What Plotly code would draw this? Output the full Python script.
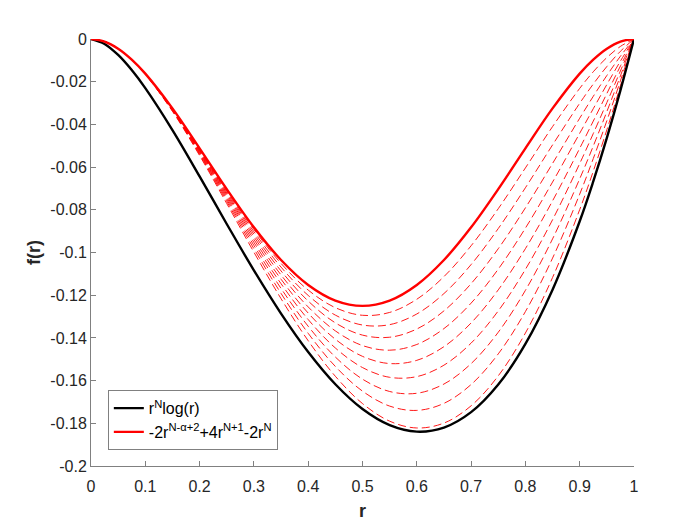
import plotly.graph_objects as go

# sample points along r
r_vals = [0, 0.025, 0.05, 0.075, 0.1, 0.15, 0.2, 0.25, 0.3, 0.35, 0.4, 0.45, 0.5,
          0.55, 0.6, 0.65, 0.7, 0.75, 0.8, 0.85, 0.9, 0.925, 0.95, 0.975, 1.0]

# black curve r^N log(r)
f_log = [0, -0.00231, -0.00749, -0.01457, -0.02303, -0.04268, -0.06438, -0.08664, -0.10836, -0.1286,
         -0.14661, -0.1617, -0.17329, -0.18083, -0.18389, -0.18201, -0.17478,
         -0.16183, -0.14281, -0.11741, -0.08537, -0.06671, -0.04629, -0.02407, 0]

# red solid curve
f_red = [0, -0.00119, -0.00451, -0.00963, -0.0162, -0.03251, -0.0512, -0.07031, -0.0882, -0.10351,
         -0.1152, -0.12251, -0.125, -0.12251, -0.1152, -0.10351, -0.0882,
         -0.07031, -0.0512, -0.03251, -0.0162, -0.00963, -0.00451, -0.00119, 0]

# red dashed family
dashed_1 = [0, -0.00119, -0.00451, -0.00963, -0.01622, -0.03261, -0.05147, -0.07087, -0.08921, -0.10513, -0.1176, -0.12585, -0.12941,
            -0.12807, -0.12191, -0.11129, -0.09684, -0.07948, -0.06039, -0.04103, -0.02313, -0.01534, -0.0087, -0.00348, 0]
dashed_2 = [0, -0.00119, -0.00452, -0.00964, -0.01625, -0.03272, -0.05176, -0.07147, -0.09027, -0.10684, -0.12011, -0.12933, -0.13397,
            -0.13379, -0.12879, -0.11923, -0.10564, -0.08878, -0.06968, -0.04961, -0.0301, -0.02109, -0.01289, -0.00577, 0]
dashed_3 = [0, -0.00119, -0.00452, -0.00966, -0.01628, -0.03285, -0.05207, -0.07212, -0.09141, -0.10863, -0.12274, -0.13295, -0.1387,
            -0.13969, -0.13584, -0.12734, -0.11459, -0.09822, -0.07909, -0.05828, -0.0371, -0.02685, -0.0171, -0.00807, 0]
dashed_4 = [0, -0.00119, -0.00452, -0.00967, -0.01632, -0.03298, -0.05242, -0.07281, -0.09261, -0.11053, -0.1255, -0.13671, -0.14359,
            -0.14576, -0.14308, -0.13564, -0.12371, -0.10779, -0.08859, -0.06701, -0.04415, -0.03264, -0.02131, -0.01036, 0]
dashed_5 = [0, -0.00119, -0.00453, -0.00968, -0.01636, -0.03313, -0.05279, -0.07355, -0.09389, -0.11252, -0.12838, -0.14063, -0.14865,
            -0.15202, -0.15051, -0.14411, -0.13299, -0.1175, -0.0982, -0.07581, -0.05122, -0.03845, -0.02554, -0.01266, 0]
dashed_6 = [0, -0.00119, -0.00453, -0.0097, -0.0164, -0.03329, -0.05319, -0.07434, -0.09525, -0.11462, -0.1314, -0.14472, -0.15389,
            -0.15846, -0.15813, -0.15277, -0.14244, -0.12735, -0.10791, -0.08467, -0.05834, -0.04428, -0.02977, -0.01497, 0]
dashed_7 = [0, -0.00119, -0.00454, -0.00972, -0.01645, -0.03347, -0.05362, -0.07519, -0.09669, -0.11684, -0.13456, -0.14896, -0.15932,
            -0.1651, -0.16594, -0.16161, -0.15205, -0.13735, -0.11774, -0.09362, -0.06549, -0.05013, -0.03402, -0.01727, 0]
dashed_8 = [0, -0.00119, -0.00454, -0.00974, -0.0165, -0.03366, -0.05409, -0.0761, -0.09822, -0.11917, -0.13786, -0.15337, -0.16494,
            -0.17194, -0.17396, -0.17065, -0.16184, -0.14749, -0.12768, -0.10264, -0.07268, -0.05601, -0.03828, -0.01958, 0]
dashed_9 = [0, -0.00119, -0.00455, -0.00977, -0.01656, -0.03388, -0.0546, -0.07708, -0.09985, -0.12163, -0.14133, -0.15797, -0.17076,
            -0.179, -0.18219, -0.17989, -0.17181, -0.15778, -0.13773, -0.11173, -0.07991, -0.06191, -0.04255, -0.0219, 0]

x_ticks = [0, 0.1, 0.2, 0.3, 0.4, 0.5, 0.6, 0.7, 0.8, 0.9, 1]
x_labels = ["0", "0.1", "0.2", "0.3", "0.4", "0.5", "0.6", "0.7", "0.8", "0.9", "1"]
y_ticks = [0, -0.02, -0.04, -0.06, -0.08, -0.1, -0.12, -0.14, -0.16, -0.18, -0.2]
y_labels = ["0", "-0.02", "-0.04", "-0.06", "-0.08", "-0.1", "-0.12", "-0.14", "-0.16", "-0.18", "-0.2"]

fig = go.Figure()

for ys in [dashed_1, dashed_2, dashed_3, dashed_4, dashed_5,
           dashed_6, dashed_7, dashed_8, dashed_9]:
    fig.add_trace(go.Scatter(x=r_vals, y=ys, mode="lines", showlegend=False,
                             line=dict(color="#ff0000", width=0.9, dash="8px,4px",
                                       shape="spline", smoothing=1)))

fig.add_trace(go.Scatter(x=r_vals, y=f_log, mode="lines", name="r<sup>N</sup>log(r)",
                         line=dict(color="black", width=2.4, shape="spline", smoothing=1)))
fig.add_trace(go.Scatter(x=r_vals, y=f_red, mode="lines",
                         name="-2r<sup>N-α+2</sup>+4r<sup>N+1</sup>-2r<sup>N</sup>",
                         line=dict(color="#ff0000", width=2.4, shape="spline", smoothing=1)))

axis_font = dict(family="Liberation Sans, Arial, sans-serif", size=16, color="#262626")

fig.update_layout(
    width=700, height=525,
    margin=dict(l=83, r=74, t=31, b=67),
    paper_bgcolor="white", plot_bgcolor="white",
    font=axis_font,
    xaxis=dict(range=[0, 1], tickvals=x_ticks, ticktext=x_labels,
               showgrid=False, zeroline=False, showline=True, linecolor="#808080",
               linewidth=1, ticks="inside", ticklen=5, tickcolor="#808080",
               ticklabelstandoff=6,
               title=dict(text="<b>r</b>", font=dict(size=18, color="#262626"), standoff=10)),
    yaxis=dict(range=[-0.2, 0], tickvals=y_ticks, ticktext=y_labels,
               showgrid=False, zeroline=False, showline=True, linecolor="#808080",
               linewidth=1, ticks="inside", ticklen=5, tickcolor="#808080",
               ticklabelstandoff=0,
               title=dict(text="<b>f(r)</b>", font=dict(size=18, color="#262626"), standoff=5)),
    legend=dict(x=0.031, y=0.037, xanchor="left", yanchor="bottom",
                bgcolor="white", bordercolor="#808080", borderwidth=1,
                font=dict(size=16, color="black"), tracegroupgap=0),
)

fig.write_html("out.html")
